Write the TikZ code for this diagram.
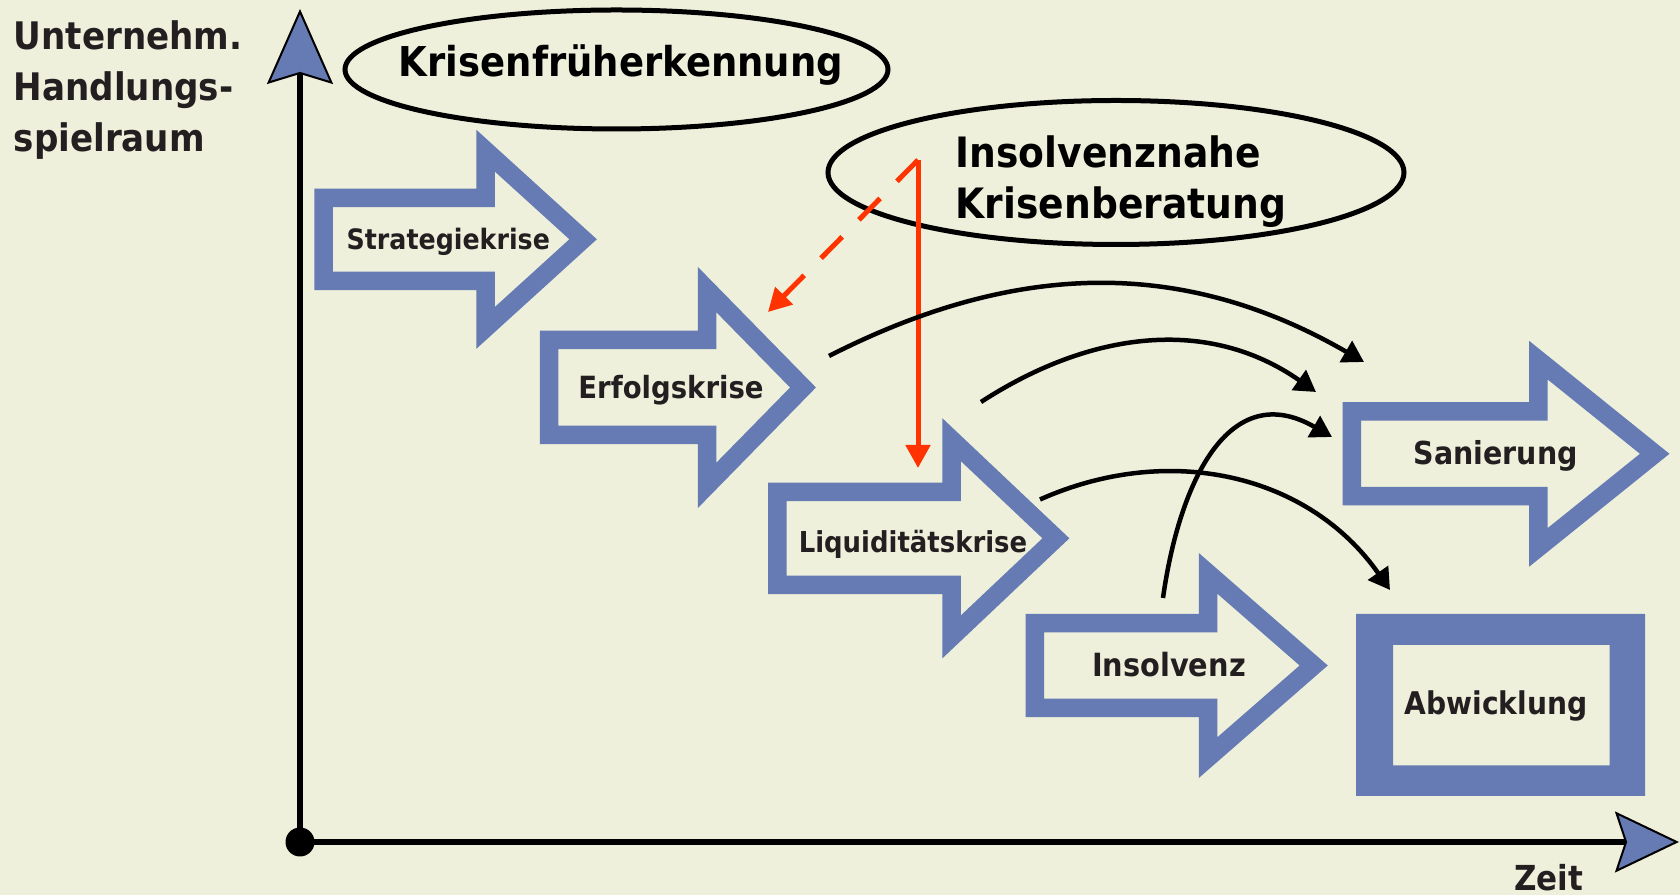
\documentclass[tikz,border=0pt]{standalone}
\usepackage{fontspec}
\newfontfamily\dejav{DejaVu Sans}[FakeStretch=0.9]
\usetikzlibrary{arrows.meta}
\definecolor{bgcol}{RGB}{238,240,220}
\definecolor{boxblue}{RGB}{102,122,180}
\definecolor{txtcol}{RGB}{35,31,32}
\definecolor{alarm}{RGB}{255,51,0}
\newcommand{\lblfont}[2]{\dejav\bfseries\fontsize{#1pt}{#2pt}\selectfont}
\newcommand{\blockarrow}[6]{%
  \draw[blockline] (#1,#4-#5) -- (#2,#4-#5) -- (#2,#4-#6) -- (#3,#4)
    -- (#2,#4+#6) -- (#2,#4+#5) -- (#1,#4+#5) -- cycle;}
\tikzset{
  blockline/.style={draw=boxblue, line width=1.85mm, line join=miter},
  lbl/.style={text=txtcol, inner sep=0pt, anchor=base},
  ring/.style={line width=0.5mm},
  axis/.style={line width=0.55mm},
  flow/.style={line width=0.45mm, -{Triangle[length=2.1mm,width=2.4mm]}},
  hint/.style={alarm, line width=0.5mm, -{Triangle[length=2.3mm,width=2.4mm]}},
}
\begin{document}
\begin{tikzpicture}[x=0.1mm, y=-0.1mm]
  \fill[bgcol] (0,0) rectangle (1680,895);
  \useasboundingbox (0,0) rectangle (1680,895);

  \node[circle, fill=black, inner sep=0pt, minimum size=2.9mm] (origin) at (300,842) {};
  \coordinate (ytip) at (300,9);
  \coordinate (xtip) at (1679,842);
  \draw[axis, -{Stealth[length=7.5mm, width=6.6mm, inset=1mm, fill=boxblue, line width=0.2mm]}] (origin.center) -- (ytip);
  \draw[axis, -{Stealth[length=6.4mm, width=6.1mm, inset=1mm, fill=boxblue, line width=0.2mm]}] (origin.center) -- (xtip);
  \node[lbl, anchor=base west, align=left, font=\lblfont{10.8}{14.5}] (yname) at (13,151.5) {Unternehm.\\Handlungs-\\spielraum};
  \node[lbl, font=\lblfont{9.8}{10}] (zeit) at (1548.5,891) {Zeit};

  \draw[ring] (616.5,69.5) ellipse [x radius=27.15mm, y radius=5.95mm];
  \node[lbl, text=black, font=\lblfont{11.7}{14}] (kfe) at (621,76.7) {Krisenfrüherkennung};
  \draw[ring] (1116,172.5) ellipse [x radius=28.8mm, y radius=7.2mm];
  \node[lbl, anchor=base west, align=left, text=black, font=\lblfont{11.9}{14.5}] (ikb) at (955,218.3) {Insolvenznahe\\Krisenberatung};

  \blockarrow{323.6}{485.5}{583.1}{239.3}{41.5}{88.7}
  \node[lbl, font=\lblfont{8}{10}] (strat) at (448.3,250) {Strategiekrise};
  \blockarrow{549}{707}{803}{387.5}{47.5}{98}
  \node[lbl, font=\lblfont{8.7}{10}] (erfolg) at (671,398.3) {Erfolgskrise};
  \blockarrow{777.4}{951.5}{1055.9}{538.3}{46.5}{98.7}
  \node[lbl, font=\lblfont{8.2}{10}] (liqui) at (913,552.7) {Liquiditätskrise};
  \blockarrow{1034.8}{1208}{1313.7}{665.5}{42.4}{92.2}
  \node[lbl, font=\lblfont{9.1}{10}] (insol) at (1169,676.7) {Insolvenz};
  \blockarrow{1351.8}{1538.3}{1654.7}{453.8}{42.4}{93.7}
  \node[lbl, font=\lblfont{9}{10}] (sanier) at (1495.7,464.7) {Sanierung};
  \fill[boxblue, even odd rule] (1356,614) rectangle (1645,796) (1393,645) rectangle (1609.5,765.5);
  \node[lbl, font=\lblfont{8.9}{10}] (abw) at (1496,715) {Abwicklung};

  \coordinate (rs) at (918,160);
  \coordinate (erfolg-in) at (768,312);
  \coordinate (liqui-in) at (918,468);
  \draw[hint] (rs) -- (liqui-in);
  \draw[hint, dash pattern=on 3mm off 2.4mm] (rs) -- (erfolg-in);

  \coordinate (erfolg-out) at (829,356);
  \coordinate (liqui-out) at (981,402);
  \coordinate (liqui-down) at (1040,499.5);
  \coordinate (insol-out) at (1163,598);
  \coordinate (sanier-a) at (1364,362);
  \coordinate (sanier-b) at (1316,392);
  \coordinate (sanier-c) at (1332,437);
  \coordinate (abw-in) at (1390,590);
  \draw[flow] (erfolg-out) to[out=27, in=150] (sanier-a);
  \draw[flow] (liqui-out) to[out=33, in=145] (sanier-b);
  \draw[flow] (insol-out) to[out=82, in=150, looseness=1.3] (sanier-c);
  \draw[flow] (liqui-down) to[out=24, in=125] (abw-in);
\end{tikzpicture}
\end{document}
